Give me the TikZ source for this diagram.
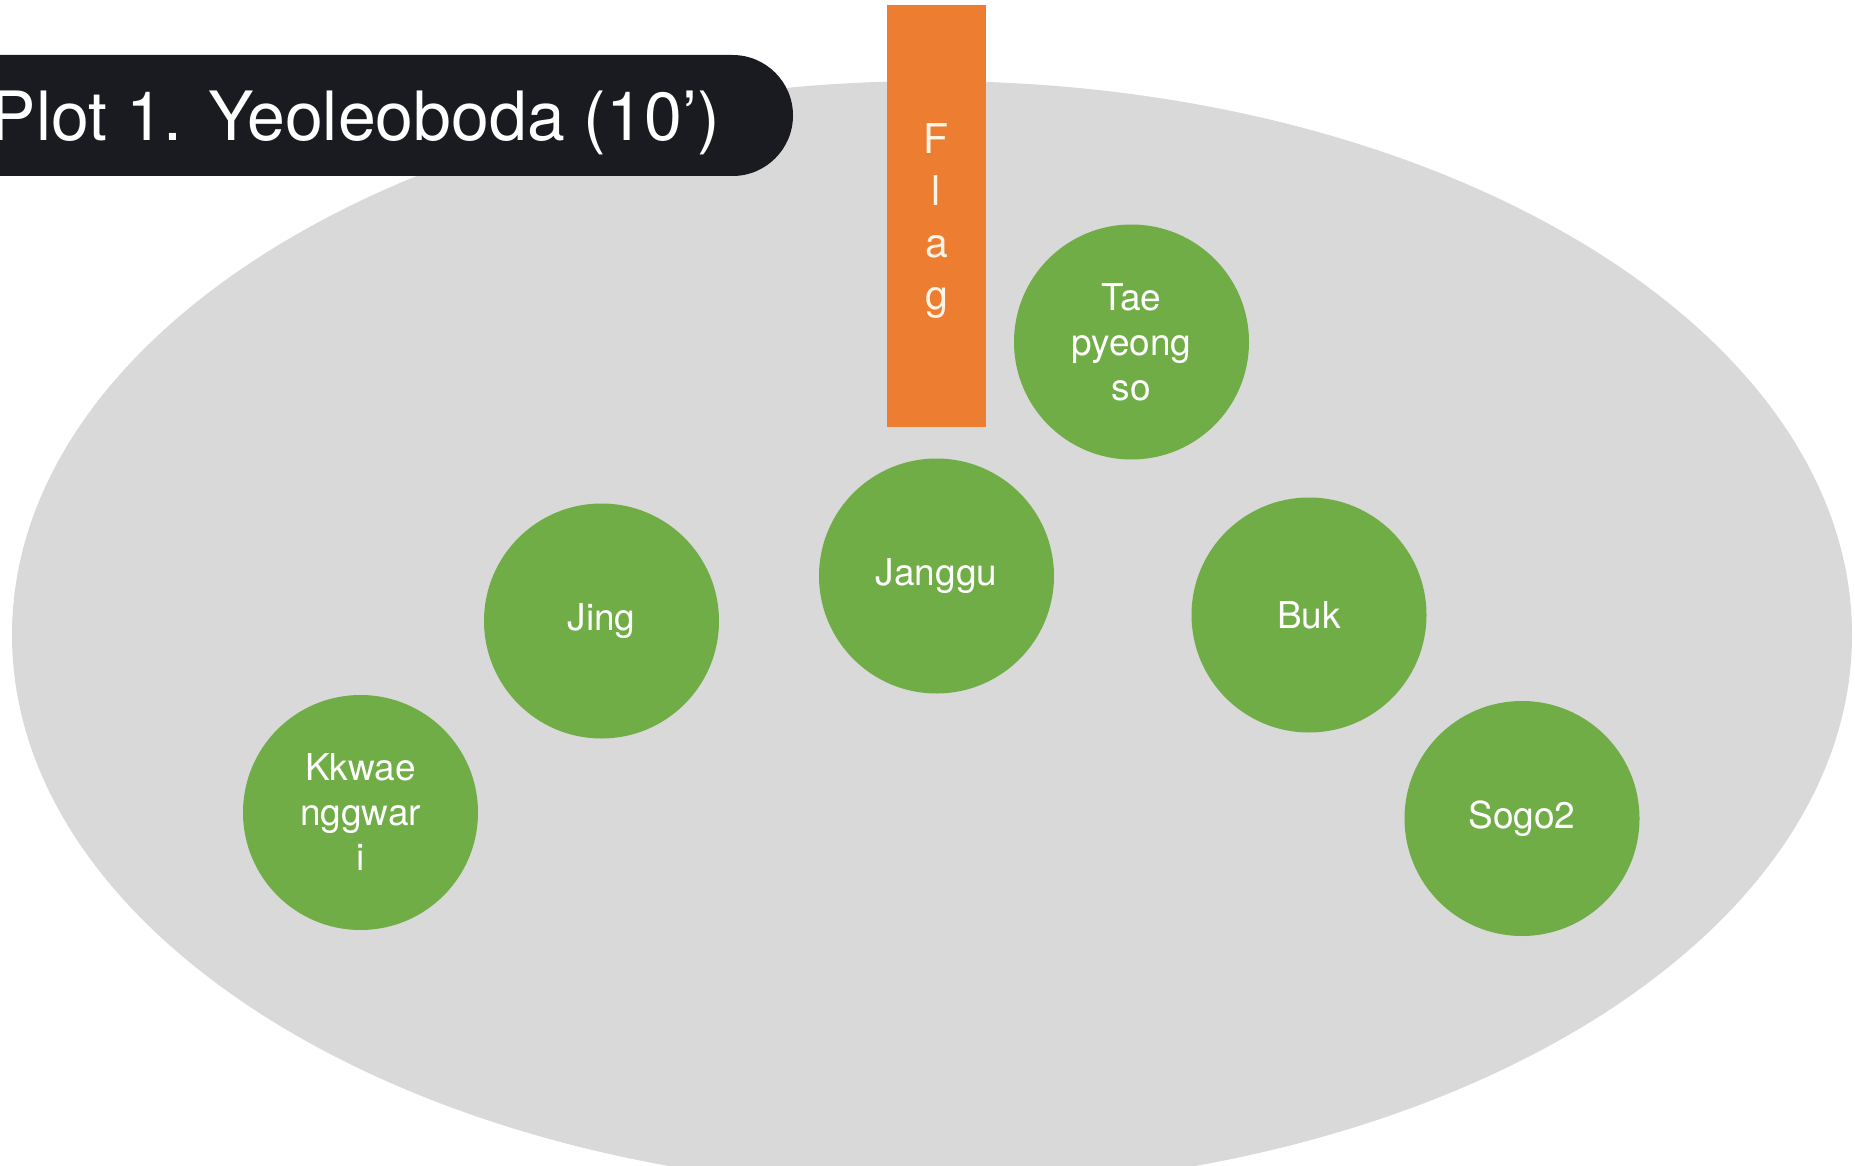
\documentclass[tikz,border=0pt]{standalone}
\usepackage{fontspec}
\setmainfont{TeX Gyre Heros}
\definecolor{plotgray}{HTML}{D9D9D9}
\definecolor{drumgreen}{HTML}{70AD47}
\definecolor{flagorange}{HTML}{ED7D31}
\definecolor{bannerblack}{HTML}{1A1B20}
\definecolor{flagtext}{HTML}{FFF4E6}
\tikzset{
  drum/.style={circle, fill=drumgreen, draw=none, minimum size=235pt, inner sep=0pt,
    text=white, align=center, font=\fontsize{37}{45}\selectfont},
  flagbox/.style={rectangle, fill=flagorange, draw=none, minimum width=99pt, minimum height=422pt,
    inner sep=0pt},
  flaglabel/.style={text=flagtext, align=center, inner sep=0pt, yshift=-5pt,
    font=\fontsize{41}{52}\selectfont},
}
\begin{document}
\begin{tikzpicture}[x=1pt,y=-1pt]
\useasboundingbox (0,0) rectangle (1855,1166);
\clip (0,0) rectangle (1855,1166);
% field
\fill[plotgray] (932,635) ellipse [x radius=920, y radius=554];
% title banner
\fill[bannerblack, rounded corners=60.5pt] (-80,55) rectangle (793,176);
\node[anchor=base east, text=white, inner sep=0pt, font=\fontsize{68}{80}\selectfont] (title) at (720,141) {Plot 1. Yeoleoboda (10’)};
% flag
\node[flagbox, label={[flaglabel]center:F\\l\\a\\g}] (flag) at (936.5,216) {};
% drums
\node[drum] (tae) at (1131.5,342) {Tae\\pyeong\\so};
\node[drum] (janggu) at (936.5,576) {Janggu};
\node[drum] (jing) at (601.5,621) {Jing};
\node[drum] (buk) at (1309,615) {Buk};
\node[drum] (sogo) at (1522,818.5) {Sogo2};
\node[drum] (kkwae) at (360.5,812.5) {Kkwae\\nggwar\\i};
\end{tikzpicture}
\end{document}
